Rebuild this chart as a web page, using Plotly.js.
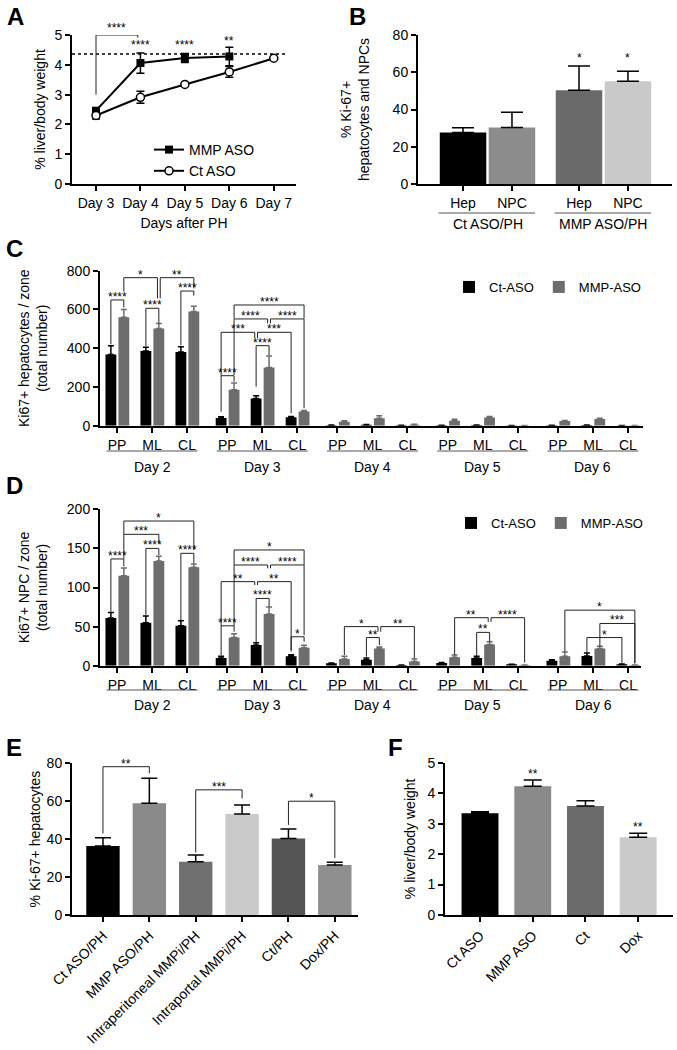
<!DOCTYPE html>
<html><head><meta charset="utf-8">
<script src="https://cdn.plot.ly/plotly-3.0.1.min.js"></script>
<style>html,body{margin:0;padding:0;background:#fff}#chart{width:677px;height:1050px}</style>
</head><body><div id="chart"></div>
<script>
// ---------------- DATA ----------------
// Panel A: liver/body weight over days after PH
const daysA = ['Day 3', 'Day 4', 'Day 5', 'Day 6', 'Day 7'];
const mmpA = [2.46, 4.06, 4.23, 4.28];
const mmpAErr = [0.10, 0.34, 0.15, 0.31];
const ctA = [2.30, 2.91, 3.34, 3.76, 4.22];
const ctAErr = [0.12, 0.20, 0.04, 0.18, 0.04];
const refLineA = 4.36;

// Panel B: % Ki-67+ hepatocytes and NPCs
const cellsB = ['Hep', 'NPC', 'Hep', 'NPC'];
const groupsB = ['Ct ASO/PH', 'MMP ASO/PH'];
const valuesB = [27.7, 30.4, 50.4, 55.2];
const errB = [2.5, 8.1, 12.9, 5.4];

// Panels C and D: per zone, per day
const daysCD = ['Day 2', 'Day 3', 'Day 4', 'Day 5', 'Day 6'];
const zonesCD = ['PP', 'ML', 'CL'];
const ctHepC     = [368, 385, 380,  40, 140, 43,  2, 5, 2,  2, 3, 1,  2, 3, 1];
const ctHepCErr  = [ 45,  20,  27,   6,  15,  5,  1, 1, 0,  0, 0, 0,  0, 0, 0];
const mmpHepC    = [560, 502, 590, 185, 300, 73, 21, 38, 5, 26, 42, 1, 24, 35, 1];
const mmpHepCErr = [ 40,  26,  27,  35,  60,  5,  4, 14, 2,  7,  5, 0,  3,  4, 0];
const ctNpcD     = [61, 55, 51, 10, 26.5, 12, 3, 7.7, 1, 3.4, 10, 1.7, 6.4, 12.4, 2];
const ctNpcDErr  = [ 7, 8.5, 6.5, 2, 3, 2, 0.5, 2.3, 0, 0.8, 2, 0.3, 1.3, 3.8, 0.3];
const mmpNpcD    = [115, 134, 126, 36, 66, 23, 8.5, 22, 5.5, 10.7, 27, 1, 12, 22, 1];
const mmpNpcDErr = [ 10,   6,   4,  5,  9,  3, 3.5,  2, 3,   3, 3.7, 0, 5.5, 3, 0];

// Panel E: % Ki-67+ hepatocytes
const groupsE = ['Ct ASO/PH', 'MMP ASO/PH', 'Intraperitoneal MMPi/PH', 'Intraportal MMPi/PH', 'Ct/PH', 'Dox/PH'];
const valuesE = [36.4, 58.9, 28.1, 53.3, 40.4, 26.4];
const errE = [4.4, 13.2, 3.5, 4.7, 5.0, 1.4];

// Panel F: liver/body weight
const groupsF = ['Ct ASO', 'MMP ASO', 'Ct', 'Dox'];
const valuesF = [3.34, 4.23, 3.58, 2.55];
const errF = [0.05, 0.20, 0.17, 0.13];

// ---------------- STYLE / LAYOUT ----------------
const W = 677, H = 1050;
const FONT = 'Liberation Sans, Arial, Helvetica, sans-serif';
const fx = p => p / W;
const fy = p => 1 - p / H;
const colorsB = ['#000000', '#8c8c8c', '#6a6a6a', '#c9c9c9'];
const colorsE = ['#000000', '#8a8a8a', '#707070', '#cacaca', '#555555', '#8f8f8f'];
const colorsF = ['#000000', '#8a8a8a', '#6b6b6b', '#cacaca'];
const GRAY_CD = '#6d6d6d';

const idxA = daysA.map((d, i) => i);
const posB = cellsB.map((c, i) => Math.floor(i / 2) * 2.37 + (i % 2));
const PERIOD = 3.15;
const posCD = [];
daysCD.forEach((d, g) => zonesCD.forEach((z, i) => posCD.push(g * PERIOD + i)));
const zoneTicks = posCD.map((p, k) => zonesCD[k % 3]);
const idxE = groupsE.map((g, i) => i);
const idxF = groupsF.map((g, i) => i);
const zeros = n => new Array(n).fill(0);

const CT_OFF = -0.33, MMP_OFF = 0.04, BW = 0.31;
const cxCD = (g, z, s, d) => g * PERIOD + z + (s === 'c' ? CT_OFF : MMP_OFF) + BW / 2 + (d || 0);

const errUp = (arr, color, w) => ({type: 'data', array: arr, arrayminus: zeros(arr.length), symmetric: false, color: color, thickness: 1.5, width: w});

const traces = [
  // A
  {type: 'scatter', mode: 'lines+markers', name: 'MMP ASO', x: idxA.slice(0, mmpA.length), y: mmpA,
   line: {color: '#000', width: 2}, marker: {symbol: 'square', size: 8, color: '#000'},
   error_y: {type: 'data', array: mmpAErr, color: '#000', thickness: 1.5, width: 4},
   xaxis: 'x', yaxis: 'y', legend: 'legend'},
  {type: 'scatter', mode: 'lines+markers', name: 'Ct ASO', x: idxA, y: ctA,
   line: {color: '#000', width: 2}, marker: {symbol: 'circle', size: 8, color: '#fff', line: {color: '#000', width: 1.5}},
   error_y: {type: 'data', array: ctAErr, color: '#000', thickness: 1.5, width: 4},
   xaxis: 'x', yaxis: 'y', legend: 'legend'},
  // B
  {type: 'bar', x: posB, y: valuesB, width: 0.95, marker: {color: colorsB, line: {width: 0}},
   error_y: errUp(errB, '#000', 11), xaxis: 'x2', yaxis: 'y2', showlegend: false},
  // C
  {type: 'bar', name: 'Ct-ASO', x: posCD, y: ctHepC, offset: CT_OFF, width: BW, marker: {color: '#000', line: {width: 0}},
   error_y: errUp(ctHepCErr, '#000', 3), xaxis: 'x3', yaxis: 'y3', legend: 'legend2'},
  {type: 'bar', name: 'MMP-ASO', x: posCD, y: mmpHepC, offset: MMP_OFF, width: BW, marker: {color: GRAY_CD, line: {width: 0}},
   error_y: errUp(mmpHepCErr, GRAY_CD, 3), xaxis: 'x3', yaxis: 'y3', legend: 'legend2'},
  // D
  {type: 'bar', name: 'Ct-ASO', x: posCD, y: ctNpcD, offset: CT_OFF, width: BW, marker: {color: '#000', line: {width: 0}},
   error_y: errUp(ctNpcDErr, '#000', 3), xaxis: 'x4', yaxis: 'y4', legend: 'legend3'},
  {type: 'bar', name: 'MMP-ASO', x: posCD, y: mmpNpcD, offset: MMP_OFF, width: BW, marker: {color: GRAY_CD, line: {width: 0}},
   error_y: errUp(mmpNpcDErr, GRAY_CD, 3), xaxis: 'x4', yaxis: 'y4', legend: 'legend3'},
  // E
  {type: 'bar', x: idxE, y: valuesE, width: 0.72, marker: {color: colorsE, line: {width: 0}},
   error_y: errUp(errE, '#000', 8), xaxis: 'x5', yaxis: 'y5', showlegend: false},
  // F
  {type: 'bar', x: idxF, y: valuesF, width: 0.7, marker: {color: colorsF, line: {width: 0}},
   error_y: errUp(errF, '#000', 9), xaxis: 'x6', yaxis: 'y6', showlegend: false}
];

const axBase = {showline: true, linecolor: '#000', linewidth: 2, ticks: 'outside', ticklen: 5, tickwidth: 2,
  tickcolor: '#000', showgrid: false, zeroline: false, tickfont: {size: 14, color: '#000'}, fixedrange: true};
const tf = {size: 14, color: '#000'};

const layout = {
  width: W, height: H, margin: {l: 0, r: 0, t: 0, b: 0}, paper_bgcolor: '#fff', plot_bgcolor: 'rgba(0,0,0,0)',
  font: {family: FONT, color: '#000', size: 14}, barmode: 'overlay', showlegend: true, hovermode: false,
  xaxis: Object.assign({}, axBase, {domain: [fx(72), fx(296)], range: [-0.54, 4.5], tickvals: idxA, ticktext: daysA,
    anchor: 'y', title: {text: 'Days after PH', font: tf, standoff: 8}}),
  yaxis: Object.assign({}, axBase, {domain: [fy(184), fy(35)], range: [0, 5], dtick: 1, anchor: 'x',
    title: {text: '% liver/body weight', font: tf, standoff: 6}}),
  xaxis2: Object.assign({}, axBase, {domain: [fx(418), fx(672)], range: [-0.92, 4.27], tickvals: posB, ticktext: cellsB, anchor: 'y2'}),
  yaxis2: Object.assign({}, axBase, {domain: [fy(184), fy(35)], range: [0, 80], dtick: 20, anchor: 'x2',
    title: {text: '% Ki-67+<br>hepatocytes and NPCs', font: tf, standoff: 20}}),
  xaxis3: Object.assign({}, axBase, {domain: [fx(100), fx(643)], range: [-0.486, 15.03], tickvals: posCD, ticktext: zoneTicks, anchor: 'y3'}),
  yaxis3: Object.assign({}, axBase, {domain: [fy(425.7), fy(270.7)], range: [0, 800], dtick: 200, anchor: 'x3',
    title: {text: 'Ki67+ hepatocytes / zone<br>(total number)', font: tf, standoff: 16}}),
  xaxis4: Object.assign({}, axBase, {domain: [fx(100), fx(641)], range: [-0.486, 14.97], tickvals: posCD, ticktext: zoneTicks, anchor: 'y4'}),
  yaxis4: Object.assign({}, axBase, {domain: [fy(665.7), fy(509.3)], range: [0, 200], dtick: 50, anchor: 'x4',
    title: {text: 'Ki67+ NPC / zone<br>(total number)', font: tf, standoff: 16}}),
  xaxis5: Object.assign({}, axBase, {domain: [fx(72), fx(358)], range: [-0.668, 5.5], tickvals: idxE, ticktext: groupsE, tickangle: -45, anchor: 'y5'}),
  yaxis5: Object.assign({}, axBase, {domain: [fy(915), fy(763.3)], range: [0, 80], dtick: 20, anchor: 'x5',
    title: {text: '% Ki-67+ hepatocytes', font: tf, standoff: 3}}),
  xaxis6: Object.assign({}, axBase, {domain: [fx(445), fx(673)], range: [-0.664, 3.66], tickvals: idxF, ticktext: groupsF, tickangle: -45, anchor: 'y6'}),
  yaxis6: Object.assign({}, axBase, {domain: [fy(915), fy(762.7)], range: [0, 5], dtick: 1, anchor: 'x6',
    title: {text: '% liver/body weight', font: tf, standoff: 8}}),
  legend: {x: fx(149), y: fy(134), xanchor: 'left', yanchor: 'top', bgcolor: 'rgba(0,0,0,0)', font: {size: 14}, itemwidth: 30},
  legend2: {orientation: 'h', x: fx(449), y: fy(272), xanchor: 'left', yanchor: 'top', bgcolor: 'rgba(0,0,0,0)', font: {size: 13}},
  legend3: {orientation: 'h', x: fx(451), y: fy(508), xanchor: 'left', yanchor: 'top', bgcolor: 'rgba(0,0,0,0)', font: {size: 13}},
  shapes: [], annotations: []
};

const shapes = layout.shapes, ann = layout.annotations;
const starFont = {size: 12, color: '#000'};
function bracket(xr, yr, x1, x2, y, yl, yr2, label, ysh) {
  shapes.push({type: 'path', xref: xr, yref: yr, path: `M ${x1},${yl} L ${x1},${y} L ${x2},${y} L ${x2},${yr2}`,
    line: {color: '#222', width: 1}});
  ann.push({xref: xr, yref: yr, x: (x1 + x2) / 2, y: y, text: label, showarrow: false, yanchor: 'middle',
    yshift: ysh === undefined ? 3 : ysh, font: starFont});
}
function star(xr, yr, x, y, label) {
  ann.push({xref: xr, yref: yr, x: x, y: y, text: label, showarrow: false, yanchor: 'middle', font: starFont});
}

// Panel A annotations
shapes.push({type: 'line', xref: 'x', yref: 'y', x0: -0.54, x1: 4.31, y0: refLineA, y1: refLineA, line: {color: '#000', width: 1.5, dash: 'dot'}});
bracket('x', 'y', 0, 0.94, 5.0, 3.0, 4.91, '****', 7);
star('x', 'y', 1, 4.66, '****');
star('x', 'y', 2, 4.66, '****');
star('x', 'y', 3, 4.81, '**');

// Panel B stars and group labels
star('x2', 'y2', posB[2], 67.6, '*');
star('x2', 'y2', posB[3], 67.6, '*');
groupsB.forEach((g, k) => {
  const a = posB[2 * k], b = posB[2 * k + 1];
  shapes.push({type: 'line', xref: 'x2', yref: 'paper', x0: a - 0.5, x1: b + 0.47, y0: fy(213), y1: fy(213), line: {color: '#555', width: 1.2}});
  ann.push({xref: 'x2', yref: 'paper', x: (a + b) / 2, y: fy(224), text: g, showarrow: false, yanchor: 'middle', font: {size: 14}});
});

// Panels C, D day group labels
function dayLabels(xr, yLine, yText) {
  daysCD.forEach((d, g) => {
    const a = posCD[3 * g], b = posCD[3 * g + 2];
    shapes.push({type: 'line', xref: xr, yref: 'paper', x0: a - 0.3, x1: b + 0.3, y0: fy(yLine), y1: fy(yLine), line: {color: '#555', width: 1.2}});
    ann.push({xref: xr, yref: 'paper', x: (a + b) / 2, y: fy(yText), text: d, showarrow: false, yanchor: 'middle', font: {size: 14}});
  });
}
dayLabels('x3', 451, 467);
dayLabels('x4', 690, 705);

// significance brackets C: [day, zoneA, seriesA, zoneB, seriesB, y, yLeftEnd, yRightEnd, label, dA, dB]
const sigC = [
  [0,0,'c',0,'m',649,420,610,'****'], [0,1,'c',1,'m',606,411,528,'****'], [0,2,'c',2,'m',695,416,671,'****'],
  [0,0,'m',1,'m',764,692,657,'*',0,-0.04], [0,1,'m',2,'m',764,657,709,'**',0.04,0],
  [1,0,'c',0,'m',258,72,227,'****'], [1,1,'c',1,'m',413,201,365,'****'],
  [1,0,'c',1,'c',482,258,451,'***',0,-0.04], [1,1,'c',2,'c',482,451,64,'***',0.04,0],
  [1,0,'m',1,'m',551,262,528,'****',0,-0.04], [1,1,'m',2,'m',551,528,90,'****',0.04,0],
  [1,0,'m',2,'m',623,554,554,'****']
];
const sigD = [
  [0,0,'c',0,'m',136.5,69,127,'****'], [0,1,'c',1,'m',150,65,141.6,'****'], [0,2,'c',2,'m',143.7,58,131,'****'],
  [0,0,'m',1,'m',168,137,156.5,'***'], [0,0,'m',2,'m',185,168,148,'*'],
  [1,0,'c',0,'m',51,13.6,43.5,'****'], [1,1,'c',1,'m',86,28.6,75.5,'****'], [1,2,'c',2,'m',37,18,30.7,'*'],
  [1,0,'c',1,'c',107.5,51,103,'**',0,-0.04], [1,1,'c',2,'c',107.5,103,20,'**',0.04,0],
  [1,0,'m',1,'m',128.8,51,124.5,'****',0,-0.04], [1,1,'m',2,'m',128.8,124.5,39,'****',0.04,0],
  [1,0,'m',2,'m',148,129,129,'*'],
  [2,0,'m',1,'m',50,13.6,43.5,'*',0,-0.04], [2,1,'m',2,'m',50,43.5,9.4,'**',0.04,0], [2,1,'c',1,'m',36,11.5,26.4,'**'],
  [3,0,'m',1,'m',61.4,13.6,56,'**',0,-0.04], [3,1,'m',2,'m',61.4,56,4,'****',0.04,0], [3,1,'c',1,'m',42.6,11.5,30.7,'**'],
  [4,0,'m',2,'m',71,18,3,'*'], [4,1,'m',2,'m',54,24.3,3,'***'], [4,1,'c',2,'c',36,15.8,3,'*']
];
sigC.forEach(s => bracket('x3', 'y3', cxCD(s[0], s[1], s[2], s[9]), cxCD(s[0], s[3], s[4], s[10]), s[5], s[6], s[7], s[8]));
sigD.forEach(s => bracket('x4', 'y4', cxCD(s[0], s[1], s[2], s[9]), cxCD(s[0], s[3], s[4], s[10]), s[5], s[6], s[7], s[8]));

// Panel E brackets
[[0, 1, 78.2, 43, 74.7, '**'], [2, 3, 66, 33, 61.5, '***'], [4, 5, 60, 47.5, 30, '*']]
  .forEach(s => bracket('x5', 'y5', idxE[s[0]], idxE[s[1]], s[2], s[3], s[4], s[5]));

// Panel F stars
star('x6', 'y6', idxF[1], 4.62, '**');
star('x6', 'y6', idxF[3], 2.9, '**');

// Panel letters
[['A', 15, 16], ['B', 357, 16], ['C', 14, 249], ['D', 14, 485], ['E', 14, 747], ['F', 396, 747]].forEach(l => {
  ann.push({xref: 'paper', yref: 'paper', x: fx(l[1]), y: fy(l[2]), text: '<b>' + l[0] + '</b>', showarrow: false,
    xanchor: 'center', yanchor: 'middle', font: {size: 24, color: '#000'}});
});

Plotly.newPlot('chart', traces, layout, {staticPlot: true, displayModeBar: false});
</script></body></html>
